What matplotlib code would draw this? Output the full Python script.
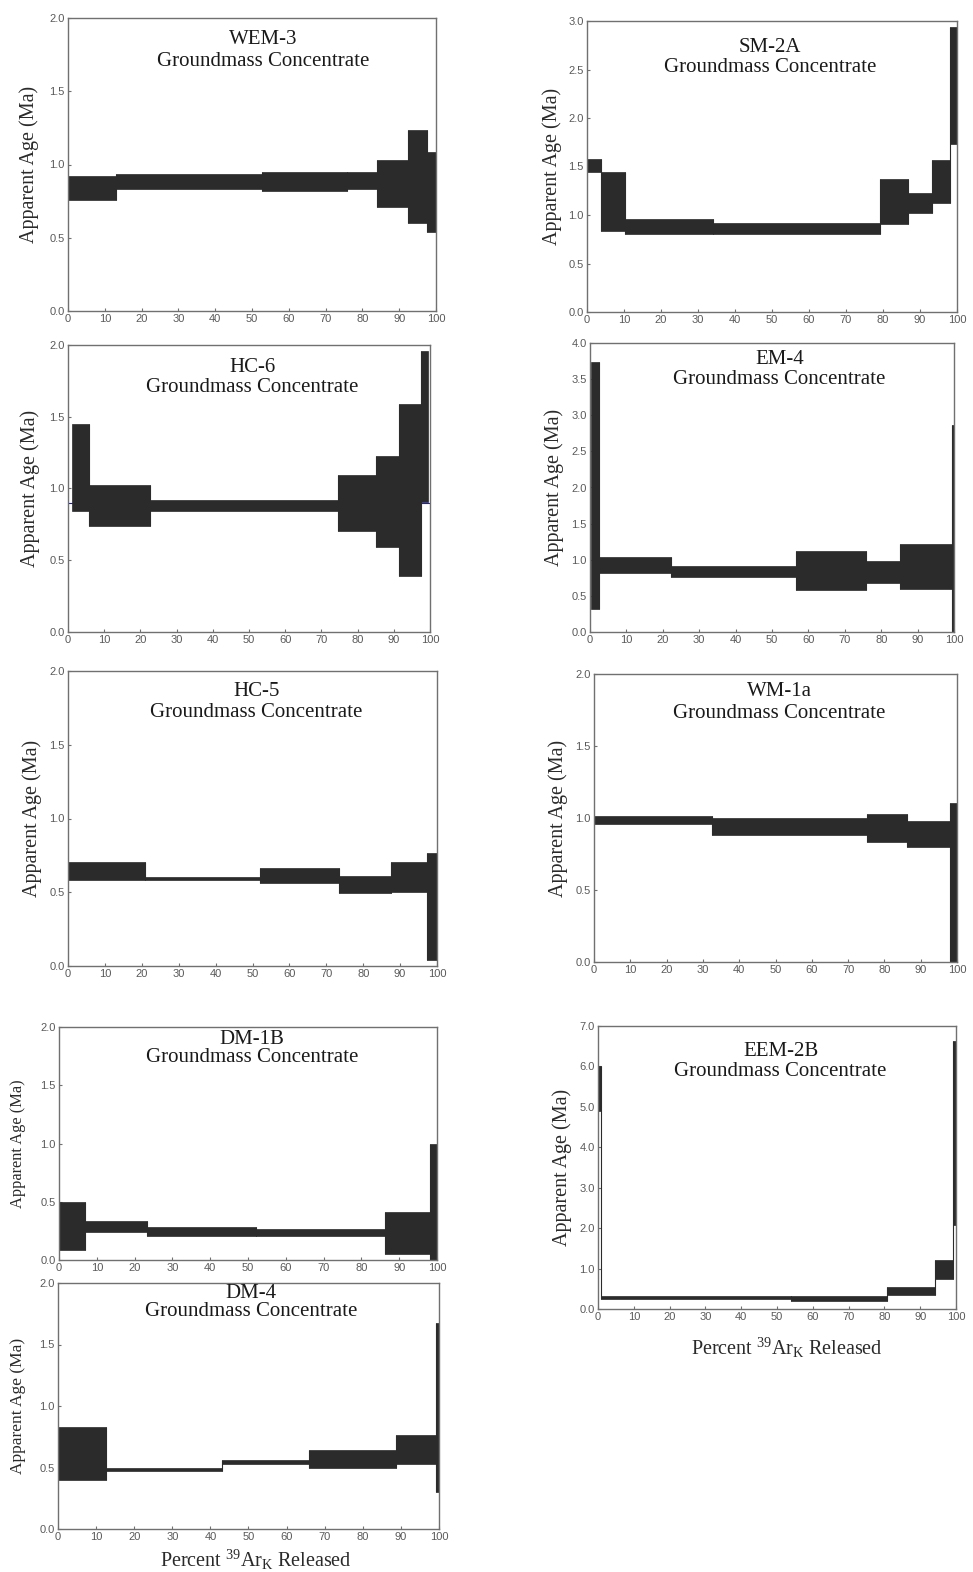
import numpy as np
import matplotlib
matplotlib.use("Agg")
import matplotlib.pyplot as plt

# ---- data: step boundaries (% 39Ar released) and age envelope (Ma) ----
wem3_x  = [0, 13, 52.6, 75.7, 83.9, 92.5, 97.6, 100]
wem3_lo = [0.76, 0.83, 0.82, 0.83, 0.71, 0.60, 0.54]
wem3_hi = [0.92, 0.935, 0.946, 0.95, 1.03, 1.236, 1.083]

sm2a_x  = [0, 3.9, 10.3, 34.1, 79.1, 86.8, 93.2, 98.2, 100]
sm2a_lo = [1.44, 0.83, 0.80, 0.80, 0.91, 1.02, 1.12, 1.735]
sm2a_hi = [1.577, 1.44, 0.962, 0.918, 1.375, 1.227, 1.57, 2.94]

hc6_x  = [1.1, 5.8, 22.6, 74.7, 85.0, 91.5, 97.4, 99.5]
hc6_lo = [0.843, 0.739, 0.843, 0.704, 0.595, 0.393, 0.904]
hc6_hi = [1.45, 1.022, 0.92, 1.094, 1.226, 1.589, 1.956]
hc6_plateau = 0.90

em4_x  = [0.3, 2.6, 22.2, 56.5, 75.8, 85.1, 99.5, 100]
em4_lo = [0.323, 0.816, 0.756, 0.581, 0.682, 0.599, 0.0]
em4_hi = [3.737, 1.037, 0.917, 1.124, 0.982, 1.212, 2.87]

hc5_x  = [0, 21.0, 52.0, 73.4, 87.4, 97.3, 100]
hc5_lo = [0.583, 0.583, 0.565, 0.497, 0.50, 0.04]
hc5_hi = [0.707, 0.606, 0.662, 0.61, 0.705, 0.764]

wm1a_x  = [0, 32.4, 75.3, 86.2, 98.2, 100]
wm1a_lo = [0.96, 0.879, 0.83, 0.798, 0.0]
wm1a_hi = [1.017, 0.999, 1.029, 0.98, 1.103]

dm1b_x  = [0, 7.0, 23.2, 52.2, 86.3, 98.2, 100]
dm1b_lo = [0.086, 0.237, 0.206, 0.209, 0.051, 0.0]
dm1b_hi = [0.50, 0.334, 0.28, 0.263, 0.414, 1.0]

dm4_x  = [0, 12.5, 43.1, 66.0, 88.8, 99.3, 100]
dm4_lo = [0.401, 0.469, 0.528, 0.499, 0.531, 0.301]
dm4_hi = [0.829, 0.499, 0.558, 0.645, 0.762, 1.677]

eem2b_x  = [0, 0.8, 54.0, 80.6, 94.1, 99.3, 100]
eem2b_lo = [4.90, 0.247, 0.206, 0.354, 0.75, 2.08]
eem2b_hi = [6.00, 0.313, 0.313, 0.544, 1.219, 6.64]

names = ["WEM-3", "SM-2A", "HC-6", "EM-4", "HC-5", "WM-1a", "DM-1B", "DM-4", "EEM-2B"]
ymaxes = [2.0, 3.0, 2.0, 4.0, 2.0, 2.0, 2.0, 2.0, 7.0]
ysteps = [0.5, 0.5, 0.5, 0.5, 0.5, 0.5, 0.5, 0.5, 1.0]
series = [(wem3_x, wem3_lo, wem3_hi), (sm2a_x, sm2a_lo, sm2a_hi),
          (hc6_x, hc6_lo, hc6_hi), (em4_x, em4_lo, em4_hi),
          (hc5_x, hc5_lo, hc5_hi), (wm1a_x, wm1a_lo, wm1a_hi),
          (dm1b_x, dm1b_lo, dm1b_hi), (dm4_x, dm4_lo, dm4_hi),
          (eem2b_x, eem2b_lo, eem2b_hi)]

# ---- layout in pixels: left, top, right, bottom ----
W, H = 973, 1572
boxes = [(68, 18, 436, 311), (587, 21, 957, 312),
         (68, 345, 430, 632), (590, 343, 954, 632),
         (68, 671, 437, 966), (594, 674, 957, 962),
         (59, 1027, 437, 1260), (58, 1283, 439, 1529),
         (598, 1026, 956, 1309)]
title_off = [(21, 43), (27, 47), (22, 43), (16, 37), (21, 42),
             (18, 39), (13, 30), (11, 29), (25, 45)]
title_xc = [0.53, 0.495, 0.51, 0.52, 0.51, 0.51, 0.51, 0.507, 0.51]
ylab_off = [39, 35, 38, 36, 36, 36, 41, 40, 36]
ylab_size = [14.5, 14.5, 14.5, 14.5, 14.5, 14.5, 11.8, 12.5, 14.5]

plt.rcParams['mathtext.fontset'] = 'custom'
plt.rcParams['mathtext.rm'] = 'Liberation Serif'
plt.rcParams['mathtext.it'] = 'Liberation Serif'

serif = 'Liberation Serif'
sans = 'Liberation Sans'
box_col = '#2b2b2b'
spine_col = '#707070'
tick_col = '#5a5a5a'

fig = plt.figure(figsize=(W / 100, H / 100), dpi=100)

for i, (l, t, r, b) in enumerate(boxes):
    ax = fig.add_axes([l / W, 1 - b / H, (r - l) / W, (b - t) / H])
    xs, lo, hi = series[i]
    xs = np.array(xs); lo = np.array(lo); hi = np.array(hi)

    if names[i] == "HC-6":
        ax.axhline(hc6_plateau, color='#2020a0', lw=0.8, zorder=1)

    ax.bar(xs[:-1], hi - lo, bottom=lo, width=np.diff(xs), align='edge',
           color=box_col, edgecolor=box_col, linewidth=0.5, zorder=2)
    # thin connectors between neighbouring steps
    for k in range(1, len(lo)):
        ax.vlines(xs[k], min(lo[k - 1], lo[k]), max(hi[k - 1], hi[k]),
                  color=box_col, lw=0.8, zorder=2)

    ax.set_xlim(0, 100)
    ax.set_ylim(0, ymaxes[i])
    ax.set_xticks(np.arange(0, 101, 10))
    ax.set_yticks(np.arange(0, ymaxes[i] + 1e-9, ysteps[i]))
    ax.set_xticklabels([str(v) for v in range(0, 101, 10)])
    ax.set_yticklabels(["%.1f" % v for v in np.arange(0, ymaxes[i] + 1e-9, ysteps[i])])
    ax.tick_params(direction='in', length=2.5, width=0.8, color=spine_col,
                   labelsize=8, labelcolor=tick_col, pad=2.5)
    for lab in ax.get_xticklabels() + ax.get_yticklabels():
        lab.set_family(sans)
    for s in ax.spines.values():
        s.set_color(spine_col)
        s.set_linewidth(1.0)

    ph = b - t
    o1, o2 = title_off[i]
    ax.text(title_xc[i], 1 - o1 / ph, names[i], transform=ax.transAxes,
            ha='center', va='center', family=serif, fontsize=15, color='#1a1a1a')
    ax.text(title_xc[i], 1 - o2 / ph, "Groundmass Concentrate", transform=ax.transAxes,
            ha='center', va='center', family=serif, fontsize=15, color='#1a1a1a')
    ax.text(-ylab_off[i] / (r - l), 0.5, "Apparent Age (Ma)", transform=ax.transAxes,
            rotation=90, ha='center', va='center', family=serif,
            fontsize=ylab_size[i], color='#2a2a2a')

xlab = r"Percent $^{\mathregular{39}}$Ar$_{\mathregular{K}}$ Released"
fig.text(256 / W, 1 - 1560 / H, xlab, ha='center', va='center',
         family=serif, fontsize=14.5, color='#2a2a2a')
fig.text(787 / W, 1 - 1348 / H, xlab, ha='center', va='center',
         family=serif, fontsize=14.5, color='#2a2a2a')

fig.savefig("out.png", dpi=100)
